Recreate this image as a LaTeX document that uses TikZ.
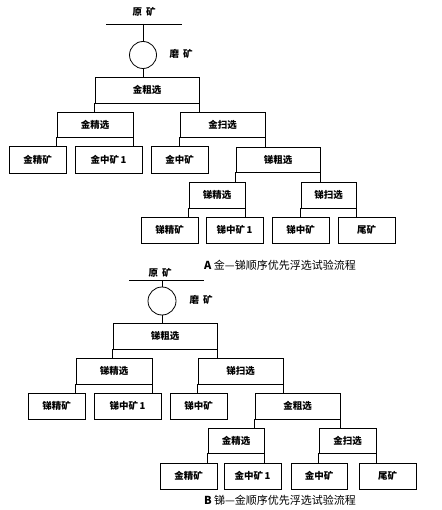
\documentclass[tikz,border=0pt]{standalone}
\usepackage{fontspec}
\setmainfont{Liberation Serif}
\newfontfamily\cjk{Noto Sans CJK SC}
\begin{document}
\begin{tikzpicture}[x=1pt,y=-1pt,
  every path/.style={line width=0.8pt},
  lbl/.style={font=\cjk\bfseries\fontsize{9.5}{10}\selectfont, inner sep=0pt},
  box/.style={draw, line width=0.8pt, inner sep=0pt, font=\cjk\bfseries\fontsize{9.5}{10}\selectfont},
  captxt/.style={font=\cjk\fontsize{11}{12}\selectfont, inner sep=0pt},
  mill/.style={draw, circle, line width=0.8pt, inner sep=0pt}]
\useasboundingbox (0,0) rectangle (441,510);
% helper: box from x1..x2, y1..y2
\newcommand{\bx}[6]{\node[box, minimum width={#3-#2}, minimum height={#5-#4}] (#1) at ({(#2+#3)/2},{(#4+#5)/2}) {#6};}
%================ A =================
\node[lbl] (feedA) at (144,12) {原\hspace{4pt}矿};
\coordinate (lineAl) at (106,24);
\coordinate (lineAr) at (182,24);
\draw (lineAl) -- (lineAr);
\node[mill, minimum size=27pt] (millA) at (143,55) {};
\node[lbl] (millAt) at (181,54) {磨\hspace{4pt}矿};
\coordinate (lineAm) at (143,24);
\draw (lineAm) -- (millA.north);
\bx{AuR}{95}{199}{77}{103}{金粗选}
\draw (millA.south) -- (millA.south |- AuR.north);
\bx{AuC}{57}{133}{112}{137}{金精选}
\bx{AuS}{180}{265}{112}{137}{金扫选}
\bx{AuConc}{9}{66}{146}{173}{金精矿}
\bx{AuMidA}{75}{142}{146}{173}{金中矿\,1}
\bx{AuMidB}{151}{208}{146}{173}{金中矿}
\bx{SbR}{236}{320}{147}{172}{锑粗选}
\bx{SbC}{189}{245}{182}{208}{锑精选}
\bx{SbS}{301}{356}{182}{208}{锑扫选}
\bx{SbConc}{141}{198}{217}{243}{锑精矿}
\bx{SbMidA}{206}{263}{217}{243}{锑中矿\,1}
\bx{SbMidB}{272}{329}{217}{243}{锑中矿}
\bx{TailA}{338}{395}{217}{243}{尾矿}
\draw (AuR.south west) -- (AuR.south west |- AuC.north);
\draw (AuR.south east) -- (AuR.south east |- AuS.north);
\draw (AuC.south west) -- (AuC.south west |- AuConc.north);
\draw (AuC.south east) -- (AuC.south east |- AuMidA.north);
\draw (AuS.south west) -- (AuS.south west |- AuMidB.north);
\draw (AuS.south east) -- (AuS.south east |- SbR.north);
\draw (SbR.south west) -- (SbR.south west |- SbC.north);
\draw (SbR.south east) -- (SbR.south east |- SbS.north);
\draw (SbC.south west) -- (SbC.south west |- SbConc.north);
\draw (SbC.south east) -- (SbC.south east |- SbMidA.north);
\draw (SbS.south west) -- (SbS.south west |- SbMidB.north);
\draw (SbS.south east) -- (SbS.south east |- TailA.north);
\node[captxt] (capA) at (280,265) {\textbf{A} 金—锑顺序优先浮选试验流程};
%================ B =================
\node[lbl] (feedB) at (160,273) {原\hspace{4pt}矿};
\coordinate (lineBl) at (129,280);
\coordinate (lineBr) at (204,280);
\draw (lineBl) -- (lineBr);
\node[mill, minimum size=28pt] (millB) at (162,301) {};
\node[lbl] (millBt) at (201,300) {磨\hspace{4pt}矿};
\coordinate (lineBm) at (162,280);
\draw (lineBm) -- (millB.north);
\bx{BSbR}{113}{217}{323}{349}{锑粗选}
\draw (millB.south) -- (millB.south |- BSbR.north);
\bx{BSbC}{76}{152}{358}{384}{锑精选}
\bx{BSbS}{198}{283}{358}{384}{锑扫选}
\bx{BSbConc}{28}{85}{393}{419}{锑精矿}
\bx{BSbMidA}{94}{161}{393}{419}{锑中矿\,1}
\bx{BSbMidB}{170}{227}{393}{419}{锑中矿}
\bx{BAuR}{255}{340}{393}{419}{金粗选}
\bx{BAuC}{208}{264}{428}{453}{金精选}
\bx{BAuS}{319}{376}{428}{453}{金扫选}
\bx{BAuConc}{160}{217}{463}{489}{金精矿}
\bx{BAuMidA}{224}{281}{463}{489}{金中矿\,1}
\bx{BAuMidB}{291}{347}{463}{489}{金中矿}
\bx{TailB}{359}{416}{463}{489}{尾矿}
\draw (BSbR.south west) -- (BSbR.south west |- BSbC.north);
\draw (BSbR.south east) -- (BSbR.south east |- BSbS.north);
\draw (BSbC.south west) -- (BSbC.south west |- BSbConc.north);
\draw (BSbC.south east) -- (BSbC.south east |- BSbMidA.north);
\draw (BSbS.south west) -- (BSbS.south west |- BSbMidB.north);
\draw (BSbS.south east) -- (BSbS.south east |- BAuR.north);
\draw (BAuR.south west) -- (BAuR.south west |- BAuC.north);
\draw (BAuR.south east) -- (BAuR.south east |- BAuS.north);
\draw (BAuC.south west) -- (BAuC.south west |- BAuConc.north);
\draw (BAuC.south east) -- (BAuC.south east |- BAuMidA.north);
\draw (BAuS.south west) -- (BAuS.south west |- BAuMidB.north);
\draw (BAuS.south east) -- (BAuS.south east |- TailB.north);
\node[captxt] (capB) at (280,500) {\textbf{B} 锑—金顺序优先浮选试验流程};
\end{tikzpicture}
\end{document}
